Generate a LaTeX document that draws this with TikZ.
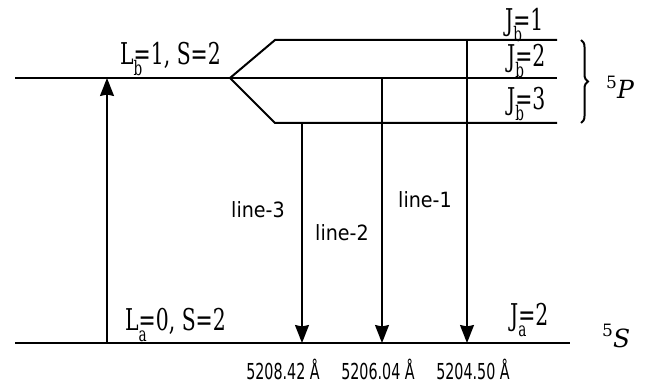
\documentclass[tikz,border=0pt]{standalone}
\usepackage{fontspec}
\usetikzlibrary{arrows.meta,decorations.pathreplacing}
\newfontfamily\levelfont[FakeStretch=0.68]{DejaVu Serif}
\newfontfamily\termfont{DejaVu Serif}
\newfontfamily\linefont[FakeStretch=0.91]{DejaVu Sans}
\newfontfamily\wavefont[FakeStretch=0.65]{DejaVu Sans}
% quantum number with a zero-width subscript tucked under the equals sign
\newcommand{\qn}[3]{#1\rlap{\raisebox{-11pt}{\fontsize{20}{20}\selectfont #2}}=#3}
\begin{document}
\begin{tikzpicture}[x=1pt,y=-1pt,
  level/.style={line width=2pt},
  trans/.style={line width=1.4pt,-{Stealth[length=18pt,width=14pt,inset=1.5pt]}},
  lvltext/.style={inner sep=0pt,font=\levelfont\fontsize{30}{36}\selectfont},
  linelbl/.style={inner sep=0pt,font=\linefont\fontsize{21}{25}\selectfont},
  wavelbl/.style={inner sep=0pt,font=\wavefont\fontsize{22}{26}\selectfont},
  termlbl/.style={inner sep=0pt,font=\termfont\fontsize{25}{30}\selectfont}]
\useasboundingbox (0,0) rectangle (650,390);

% levels
\coordinate (pL) at (15,78);
\coordinate (fork) at (230,78);
\coordinate (up1) at (275,40);
\coordinate (lo1) at (275,123);
\coordinate (j1e) at (557,40);
\coordinate (j2e) at (557,78);
\coordinate (j3e) at (557,123);
\coordinate (sL) at (15,343);
\coordinate (sR) at (570,343);

\draw[level] (pL) -- (fork) -- (j2e);
\draw[level] (fork) -- (up1) -- (j1e);
\draw[level] (fork) -- (lo1) -- (j3e);
\draw[level] (sL) -- (sR);

% transitions
\coordinate (exB) at (107,343);
\coordinate (exT) at (107,78);
\coordinate (l3T) at (302,123);
\coordinate (l3B) at (302,343);
\coordinate (l2T) at (382,78);
\coordinate (l2B) at (382,343);
\coordinate (l1T) at (467,40);
\coordinate (l1B) at (467,343);
\draw[trans] (exB) -- (exT);
\draw[trans] (l3T) -- (l3B);
\draw[trans] (l2T) -- (l2B);
\draw[trans] (l1T) -- (l1B);

% level labels
\node[lvltext,anchor=base west] (lb) at (120,65) {\qn{L}{b}{1}, S=2};
\node[lvltext,anchor=base west] (la) at (125,330) {\qn{L}{a}{0}, S=2};
\node[lvltext,anchor=base west] (jb1) at (505,31) {\qn{J}{b}{1}};
\node[lvltext,anchor=base west] (jb2) at (507,67) {\qn{J}{b}{2}};
\node[lvltext,anchor=base west] (jb3) at (507,110) {\qn{J}{b}{3}};
\node[lvltext,anchor=base west] (ja2) at (510,325) {\qn{J}{a}{2}};

% line labels
\node[linelbl] (n3) at (258,210) {line-3};
\node[linelbl] (n2) at (342,233) {line-2};
\node[linelbl] (n1) at (425,200) {line-1};

% wavelengths
\node[wavelbl,anchor=base] (w3) at (283,379) {5208.42 Å};
\node[wavelbl,anchor=base] (w2) at (378,379) {5206.04 Å};
\node[wavelbl,anchor=base] (w1) at (473,379) {5204.50 Å};

% terms
\coordinate (brT) at (581,40);
\coordinate (brB) at (581,123);
\draw[line width=2pt,decorate,decoration={brace,amplitude=7pt}] (brT) -- (brB);
\node[termlbl,anchor=base west] (tP) at (606,99) {\raisebox{10pt}{\fontsize{17}{17}\selectfont 5}\itshape P};
\node[termlbl,anchor=base west] (tS) at (602,347) {\raisebox{11pt}{\fontsize{17}{17}\selectfont 5}\itshape S};
\end{tikzpicture}
\end{document}
